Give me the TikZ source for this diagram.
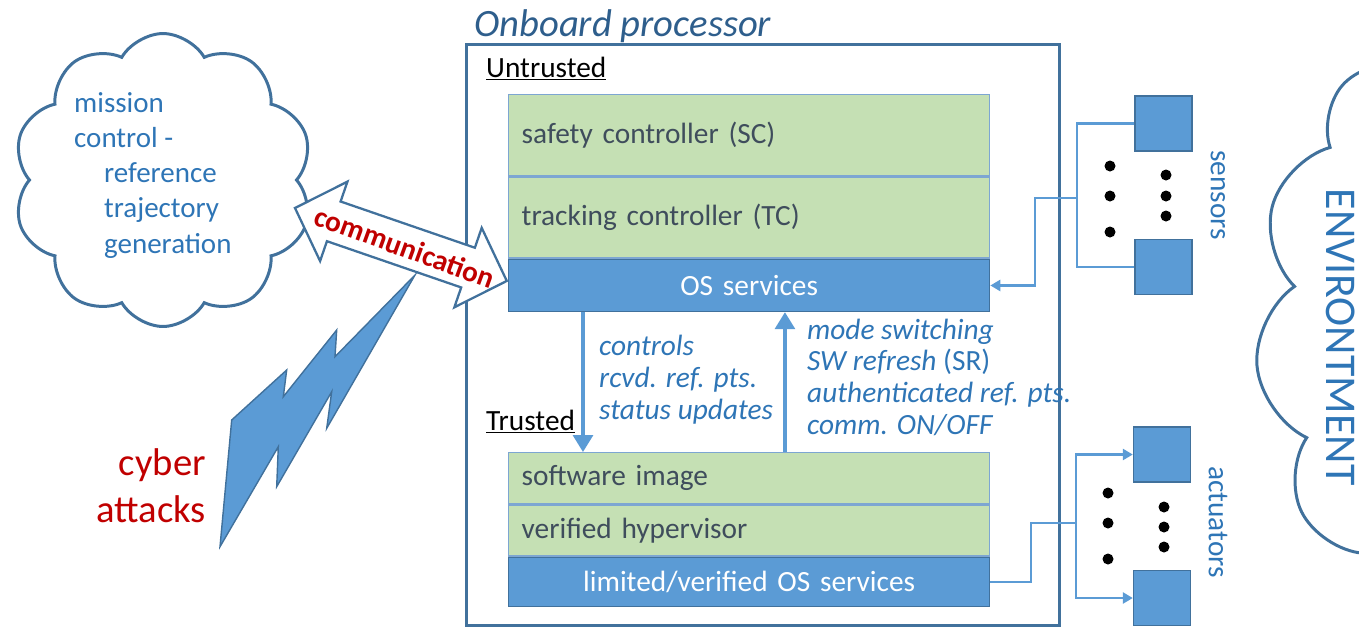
\documentclass[tikz,border=0pt]{standalone}
\usepackage{fontspec}
\setmainfont{Carlito}
\usetikzlibrary{arrows.meta,positioning,shapes.symbols}
\definecolor{ppblue}{HTML}{5B9BD5}
\definecolor{ppline}{HTML}{41719C}
\definecolor{ppgreen}{HTML}{C5E0B4}
\definecolor{ppedge}{HTML}{7DA6D2}
\definecolor{pptext}{HTML}{2E75B6}
\definecolor{pptitle}{HTML}{2E5E8C}
\definecolor{ppdark}{HTML}{3F4D5C}
\definecolor{ppred}{HTML}{C00000}
\newcommand\lblfont{\fontsize{16.7pt}{18pt}\selectfont}
\newcommand\cldfont{\fontsize{16.5pt}{20pt}\selectfont}
\newcommand\ttlfont{\fontsize{22pt}{26.7pt}\selectfont}
\newcommand\envfont{\fontsize{25pt}{30pt}\selectfont}
\tikzset{
  greenbox/.style={draw=ppedge, line width=0.8pt, fill=ppgreen, anchor=north west, inner ysep=0pt,
    inner xsep=0.26cm, text width=9.1cm, align=left, text=ppdark, font=\lblfont},
  osbar/.style={draw=ppline, line width=0.8pt, fill=ppblue, anchor=north west, inner ysep=0pt,
    inner xsep=0.26cm, text width=9.1cm, align=center, text=white, font=\lblfont},
  dev/.style={draw=ppline, line width=0.8pt, fill=ppblue, minimum width=1.14cm, minimum height=1.1cm, inner sep=0pt},
  wire/.style={draw=ppblue, line width=1.5pt},
  wirearrow/.style={wire, -{Triangle[width=0.22cm,length=0.2cm]}},
  flow/.style={draw=ppblue, line width=1.8pt, -{Triangle[width=0.4cm,length=0.34cm]}},
  note/.style={text=pptext, font=\lblfont\itshape, align=left, anchor=base west},
  side/.style={text=pptext, font=\lblfont, rotate=-90},
  puffy/.style={cloud, cloud puffs=#1, cloud puff arc=120, cloud ignores aspect, draw=ppline, line width=1.7pt, inner sep=0pt}
}
\begin{document}
\begin{tikzpicture}[x=0.02cm,y=-0.02cm]
\useasboundingbox (0,0) rectangle (1359,627);

\node[puffy=10, minimum width=6cm, minimum height=5.86cm] (mission) at (163,180) {};
\node[text=pptext, font=\cldfont, align=left, anchor=base west] (mctext) at (68,253)
  {mission\\control -\\\hspace*{0.6cm}reference\\\hspace*{0.6cm}trajectory\\\hspace*{0.6cm}generation};
\node[puffy=11, minimum width=7.6cm, minimum height=11.4cm] (env) at (1445,325) {};
\node[side, font=\envfont] (envlbl) at (1341,337) {ENVIRONTMENT};

\node[anchor=base west, text=pptitle, font=\ttlfont\itshape] (title) at (468,36) {Onboard processor};
\node[draw=ppline, line width=1.5pt, anchor=north west, inner sep=0pt, minimum width=11.86cm, minimum height=11.62cm] (proc) at (465,43) {};
\node[anchor=base west, font=\lblfont] (untr) at (480,77) {\underline{Untrusted}};
\node[anchor=base west, font=\lblfont] (tr) at (480,430) {\underline{Trusted}};

\node[greenbox, minimum height=1.62cm] (sc) at (508,94) {safety controller (SC)};
\node[greenbox, minimum height=1.62cm] (tc) at (sc.south west) {tracking controller (TC)};
\node[osbar, minimum height=1.04cm] (os) at (tc.south west) {OS services};
\node[greenbox, minimum height=1.02cm] (si) at (508,452) {software image};
\node[greenbox, minimum height=1.02cm] (vh) at (si.south west) {verified hypervisor};
\node[osbar, minimum height=0.98cm] (los) at (vh.south west) {limited/verified OS services};

\draw[flow] ([xshift=1.5cm]os.south west) -- ([xshift=1.5cm]si.north west);
\draw[flow] ([xshift=5.54cm]si.north west) -- ([xshift=5.54cm]os.south west);
\node[note] (dnlbl) at (593,419) {controls\\rcvd. ref. pts.\\status updates};
\node[note] (uplbl) at (801,434) {mode switching\\SW refresh \textup{(SR)}\\authenticated ref. pts.\\comm. ON/OFF};

\node[dev] (s1) at (1163.5,123.5) {};
\node[dev] (s2) at (1163.5,267) {};
\node[dev] (a1) at (1162,454.5) {};
\node[dev] (a2) at (1162,598) {};
\foreach \y in {166,196,232} \fill (1110,\y) circle (0.11cm);
\foreach \y in {175,196,216} \fill (1166,\y) circle (0.11cm);
\foreach \y in {493,523,559} \fill (1108,\y) circle (0.11cm);
\foreach \y in {507,527,547} \fill (1164,\y) circle (0.11cm);
\node[side] (senslbl) at (1218,195) {sensors};
\node[side] (actlbl) at (1218,522) {actuators};

\coordinate (sbus) at (1077,198);
\coordinate (sj) at (1035,198);
\draw[wire] (s1.west) -| (sbus) |- (s2.west);
\draw[wirearrow] (sbus) -- (sj) |- (os.east);
\coordinate (aj) at (1031,523);
\coordinate (abus) at (1076,523);
\draw[wire] (los.east) -| (aj) -- (abus);
\draw[wirearrow] (abus) |- (a1.west);
\draw[wirearrow] (abus) |- (a2.west);

\begin{scope}[shift={(295,208)}, rotate=-19]
\draw[ppline, fill=white, line width=1.3pt] (0,0) -- (41,-42) -- (41,-21) -- (183,-21) -- (183,-42) -- (224,0)
  -- (183,42) -- (183,21) -- (41,21) -- (41,42) -- cycle;
\end{scope}
\node[text=ppred, font=\lblfont\bfseries, rotate=-20] (commtxt) at (405,247) {communication};

\draw[ppline, fill=ppblue, line width=0.8pt] (415,275) -- (326.7,428.3) -- (331.7,391.7) -- (276.7,486.7) -- (278.3,446.7)
  -- (220,546.7) -- (231.7,420) -- (286.7,370) -- (283.3,396.7) -- (336.7,330) -- (335,356.7) -- cycle;
\node[text=ppred, font=\ttlfont, align=right, anchor=base east] (cyber) at (212,522) {cyber\\attacks};
\end{tikzpicture}
\end{document}
